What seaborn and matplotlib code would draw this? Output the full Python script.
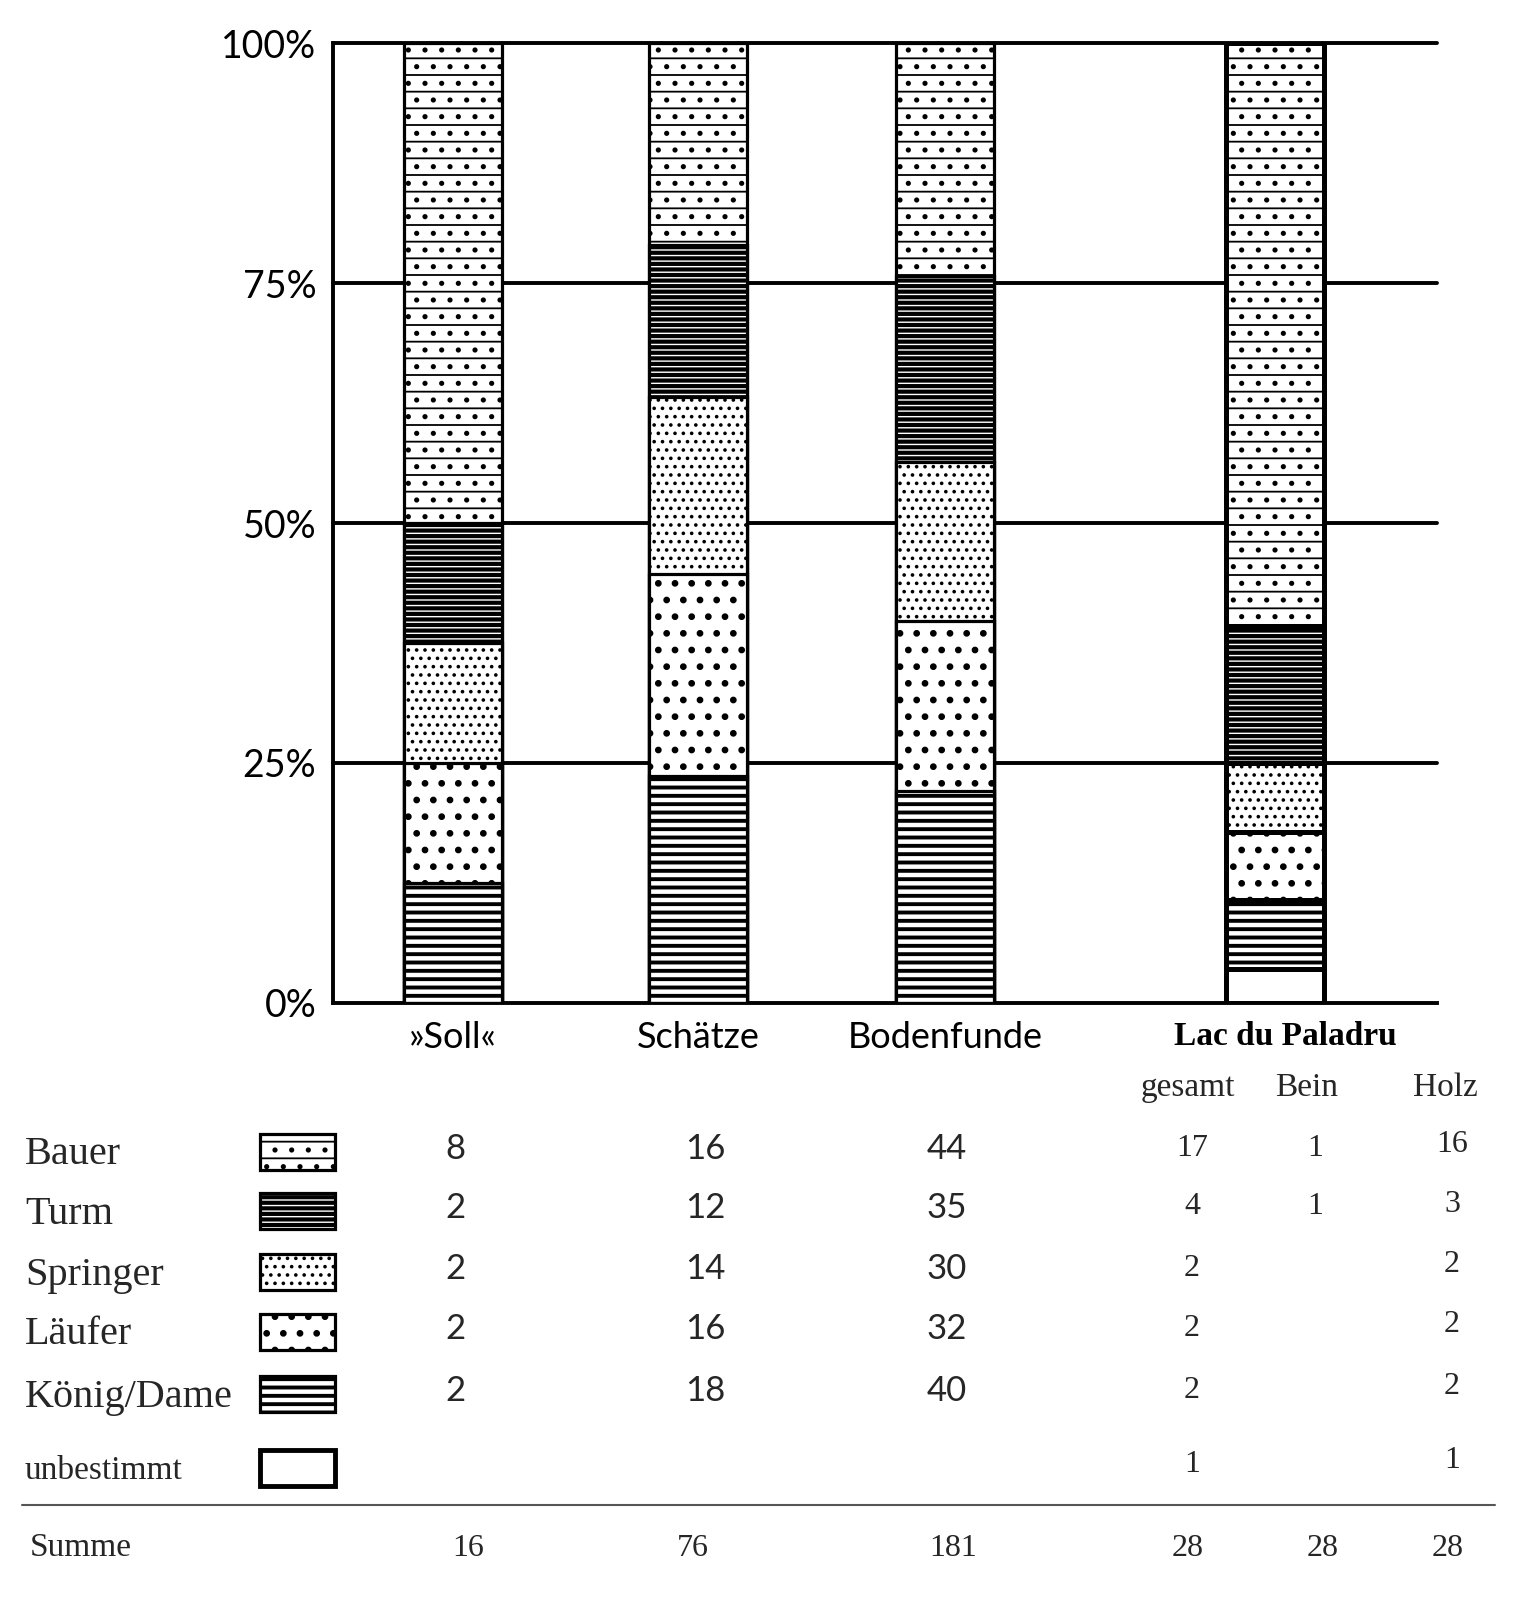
import numpy as np
import pandas as pd
import matplotlib
matplotlib.use("Agg")
import matplotlib.pyplot as plt
import matplotlib.transforms as mtrans
import seaborn as sns
from matplotlib.patches import Rectangle

# ---------------- data ----------------
categories = ["»Soll«", "Schätze", "Bodenfunde", "Lac du Paladru"]
pieces = ["Bauer", "Turm", "Springer", "Läufer", "König/Dame", "unbestimmt"]
bauer = [8, 16, 44, 17]
turm = [2, 12, 35, 4]
springer = [2, 14, 30, 2]
laeufer = [2, 16, 32, 2]
koenig = [2, 18, 40, 2]
unbestimmt = [0, 0, 0, 1]
paladru_sub = ["gesamt", "Bein", "Holz"]
bein = [1, 1, None, None, None, None]
holz = [16, 3, 2, 2, 2, 1]
summe = [16, 76, 181, 28, 28, 28]
yticks = [0, 25, 50, 75, 100]
ytick_labels = ["0%", "25%", "50%", "75%", "100%"]

# ---------------- style / layout ----------------
SANS = ["Lato", "DejaVu Sans"]
SERIF = ["Liberation Serif", "DejaVu Serif"]
sns.set_theme(style="white")
plt.rcParams["font.family"] = SANS

hatch_style = {
    "Bauer": ("-.", 1.3),
    "Turm": ("---", 3.0),
    "Springer": ("..", 1.4),
    "Läufer": (".", 2.4),
    "König/Dame": ("--", 2.8),
    "unbestimmt": ("", 1.0),
}
bar_x = [453, 698, 945, 1275]

W, H = 1536, 1600
fig = plt.figure(figsize=(W / 100, H / 100), dpi=100)
fig.patch.set_facecolor("white")

# overlay axes in pixel coordinates for the table part
tab = fig.add_axes([0, 0, 1, 1], zorder=0)
tab.set_xlim(0, W)
tab.set_ylim(H, 0)
tab.axis("off")

left_px, right_px, top_px, bot_px = 333, 1437, 43, 1003
ax = fig.add_axes([left_px / W, 1 - bot_px / H, (right_px - left_px) / W,
                   (bot_px - top_px) / H], zorder=1)
ax.set_facecolor("none")

# ---------------- stacked bars ----------------
counts = {
    "Bauer": bauer, "Turm": turm, "Springer": springer,
    "Läufer": laeufer, "König/Dame": koenig, "unbestimmt": unbestimmt,
}
totals = np.array([sum(counts[p][i] for p in pieces) for i in range(len(categories))], float)
bottom_to_top = ["unbestimmt", "König/Dame", "Läufer", "Springer", "Turm", "Bauer"]
cum = {}
running = np.zeros(len(categories))
for p in bottom_to_top:
    running = running + np.array(counts[p]) / totals * 100
    cum[p] = running.copy()

for p in reversed(bottom_to_top):  # Bauer (tallest) first, smaller stacks on top
    df = pd.DataFrame({"pos": bar_x, "top": cum[p], "cat": categories})
    n_before = len(ax.patches)
    hatch, hlw = hatch_style[p]
    sns.barplot(data=df, x="pos", y="top", native_scale=True, width=0.4,
                color="white", saturation=1, edgecolor="black", linewidth=2.3,
                hatch=hatch, errorbar=None, ax=ax, zorder=3)
    new = ax.patches[n_before:]
    for k, patch in enumerate(new):
        if hasattr(patch, "set_hatch_linewidth"):
            patch.set_hatch_linewidth(hlw)
        if k == 3:
            patch.set_linewidth(3.6)

for y in yticks[1:]:
    ax.axhline(y, color="black", lw=2.8, zorder=1, clip_on=False)

ax.set_xlim(left_px, right_px)
ax.set_ylim(0, 100)
sns.despine(ax=ax, top=True, right=True)
for s in ["left", "bottom"]:
    ax.spines[s].set_linewidth(2.8)
    ax.spines[s].set_color("black")
ax.set_yticks(yticks, ytick_labels)
ax.tick_params(axis="y", length=0, pad=12, labelsize=27, labelcolor="black")
ax.set_xticks(bar_x, categories)
ax.tick_params(axis="x", length=0, pad=13, labelsize=26, labelcolor="black")
ax.set_xlabel("")
ax.set_ylabel("")
lac = ax.get_xticklabels()[3]
lac.set_fontfamily(SERIF)
lac.set_fontweight("bold")
lac.set_fontsize(24)
lac.set_transform(lac.get_transform() +
                  mtrans.ScaledTranslation(0.10, 0, fig.dpi_scale_trans))

# ---------------- table under the chart ----------------
sub_x = [1188, 1307, 1445]
for s, x in zip(paladru_sub, sub_x):
    tab.text(x, 1088, s, family=SERIF, fontsize=24, ha="center", va="center")

row_y = [1152, 1211, 1272, 1332, 1394, 1468]
for i, p in enumerate(pieces):
    y = row_y[i]
    fs = 29 if p != "unbestimmt" else 24
    tab.text(25, y + 3, p, family=SERIF, fontsize=fs, ha="left", va="center")
    hatch, hlw = hatch_style[p]
    r = Rectangle((260, y - 18), 75, 36, facecolor="white", edgecolor="black",
                  lw=2.3 if p != "unbestimmt" else 3.5, hatch=hatch)
    if hasattr(r, "set_hatch_linewidth"):
        r.set_hatch_linewidth(hlw)
    tab.add_patch(r)

sans_cols = [455, 705, 947]
for ci in range(3):
    for i, p in enumerate(pieces):
        v = counts[p][ci]
        if p == "unbestimmt" and v == 0:
            continue
        tab.text(sans_cols[ci], row_y[i] - 3, str(v), family=SANS, fontsize=25,
                 ha="center", va="center")

gesamt_x, bein_x, holz_x = 1192, 1315, 1452
for i, p in enumerate(pieces):
    y = row_y[i] - 4
    tab.text(gesamt_x, y, str(counts[p][3]), family=SERIF, fontsize=23,
             ha="center", va="center")
    if bein[i] is not None:
        tab.text(bein_x, y, str(bein[i]), family=SERIF, fontsize=23,
                 ha="center", va="center")
    if holz[i] is not None:
        tab.text(holz_x, y - 3, str(holz[i]), family=SERIF, fontsize=23,
                 ha="center", va="center")

tab.plot([22, 1495], [1505, 1505], color="#555555", lw=1.5)
tab.text(30, 1548, "Summe", family=SERIF, fontsize=24, ha="left", va="center")
summe_x = [468, 693, 953, 1188, 1323, 1448]
for x, v in zip(summe_x, summe):
    tab.text(x, 1548, str(v), family=SERIF, fontsize=23, ha="center", va="center")

fig.savefig("out.png", dpi=100, facecolor="white")
